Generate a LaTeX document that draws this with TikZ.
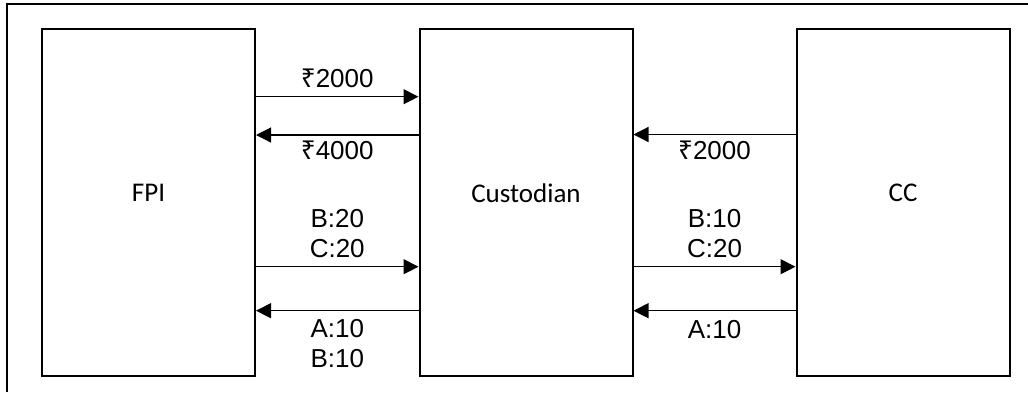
\documentclass[tikz,border=0pt]{standalone}
\usepackage{fontspec}
\setmainfont{Liberation Sans}
\newfontfamily\boxfont{Carlito}
\newfontfamily\rupfont{Noto Sans}
\newcommand{\rup}{{\rupfont ₹}}
\usetikzlibrary{arrows.meta}
\begin{document}
\begin{tikzpicture}[x=0.5pt,y=-0.5pt,
  box/.style={draw, line width=1pt, minimum width=106.5pt, minimum height=173.5pt, inner sep=0pt},
  boxtxt/.style={font=\boxfont\fontsize{13.5}{16}\selectfont, yshift=4.6pt, inner sep=0pt},
  flow/.style={line width=0.6pt, -{Triangle[length=7.5pt,width=7.5pt]}},
  lbl/.style={font=\fontsize{13}{15}\selectfont, align=center, inner sep=0pt}]
\useasboundingbox (0,0) rectangle (1028,392);
\draw[line width=1pt] (7,392) -- (7,4) -- (1028,4);
\node[box, label={[boxtxt]center:FPI}] (fpi) at (148.5,202.5) {};
\node[box, label={[boxtxt]center:Custodian}] (cust) at (526,202.5) {};
\node[box, label={[boxtxt]center:CC}] (cc) at (903,202.5) {};
% cash
\draw[flow] (fpi.east |- 0,96.7) -- node[lbl, yshift=9.35pt]{\rup2000} (cust.west |- 0,96.7);
\draw[flow] (cust.west |- 0,135) -- node[lbl, yshift=-7.6pt]{\rup4000} (fpi.east |- 0,135);
\draw[flow] (cc.west |- 0,134.5) -- node[lbl, yshift=-8pt]{\rup2000} (cust.east |- 0,134.5);
% securities
\draw[flow] (fpi.east |- 0,266.7) -- node[lbl, yshift=16.8pt]{B:20\\C:20} (cust.west |- 0,266.7);
\draw[flow] (cust.west |- 0,310.7) -- node[lbl, yshift=-16.6pt]{A:10\\B:10} (fpi.east |- 0,310.7);
\draw[flow] (cust.east |- 0,266.7) -- node[lbl, yshift=16.8pt]{B:10\\C:20} (cc.west |- 0,266.7);
\draw[flow] (cc.west |- 0,310.7) -- node[lbl, yshift=-9.2pt]{A:10} (cust.east |- 0,310.7);
\end{tikzpicture}
\end{document}
